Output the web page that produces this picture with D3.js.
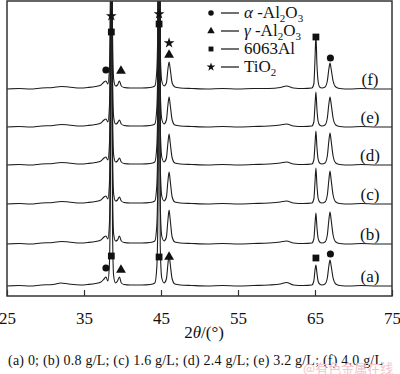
<!DOCTYPE html>
<html>
<head>
<meta charset="utf-8">
<script src="https://cdn.jsdelivr.net/npm/d3@7"></script>
<style>
  body { margin: 0; background: #fff; }
  svg { display: block; }
  text { font-family: "Liberation Serif", "Times New Roman", serif; fill: #111; }
</style>
</head>
<body>
<div id="chart"></div>
<script>

// 2theta grid shared by all patterns
var twoTheta = [25, 26.5, 28, 29.5, 31, 32, 33, 34.5, 35.5, 36.5,
  37.2, 37.6, 37.85, 38.1, 38.3, 38.45, 38.55, 38.7, 38.85, 39.1,
  39.35, 39.6, 39.85, 40.2, 41, 42.5, 43.6, 44.2, 44.45, 44.6,
  44.75, 44.9, 45.1, 45.4, 45.7, 45.9, 46.05, 46.2, 46.45, 46.8,
  47.5, 49, 51, 53, 55, 57, 59, 60.5, 61.3, 62.2,
  63.5, 64.6, 64.85, 65.0, 65.12, 65.25, 65.4, 65.6, 65.9, 66.3,
  66.6, 66.8, 66.95, 67.1, 67.35, 67.7, 68.2, 69.5, 71, 73, 75];

// intensity above each pattern's own baseline (arb. units)
var patA = [0, 0.5, 0, 1, 1.5, 3, 2, 1, 1.5, 2.5,
  4, 7, 9, 5, 22, 130, 600, 60, 10, 3,
  5, 9, 3, 1.5, 1, 1, 1.5, 3, 18, 70,
  600, 40, 8, 3, 7, 22, 31, 22, 7, 2,
  1, 0.5, 0, 0.5, 0, 0.5, 1, 2, 3.5, 1,
  0.5, 1, 5, 16, 21, 13, 5, 2, 1, 2,
  8, 20, 26, 20, 8, 2, 0.5, 0, 0.5, 0, 0];
var patB = [0, 0.5, 0, 1, 1.5, 2.5, 2, 1, 1.5, 2.5,
  4, 7, 8, 5, 20, 130, 600, 60, 10, 3,
  4, 8, 3, 1.5, 1, 1, 1.5, 3, 18, 70,
  600, 40, 8, 3, 7, 24, 34, 24, 7, 2,
  1, 0.5, 0, 0.5, 0, 0.5, 1, 2, 3, 1,
  0.5, 1, 5, 20, 31, 17, 6, 2, 1, 2,
  9, 24, 32, 24, 9, 2, 0.5, 0, 0.5, 0, 0];
var patC = [0, 0.5, 0, 1, 1.5, 2.5, 2, 1, 1.5, 2.5,
  4, 7, 8, 5, 20, 130, 600, 60, 10, 3,
  4, 7, 3, 1.5, 1, 1, 1.5, 3, 18, 70,
  600, 40, 8, 3, 7, 23, 32, 23, 7, 2,
  1, 0.5, 0, 0.5, 0, 0.5, 1, 2, 3, 1,
  0.5, 1, 5, 22, 36, 19, 6, 2, 1, 2,
  9, 24, 33, 24, 9, 2, 0.5, 0, 0.5, 0, 0];
var patD = [0, 0.5, 0, 1, 1.5, 2.5, 2, 1, 1.5, 2.5,
  4, 7, 8, 5, 20, 130, 600, 60, 10, 3,
  4, 7, 3, 1.5, 1, 1, 1.5, 3, 18, 70,
  600, 40, 8, 3, 7, 22, 31, 22, 7, 2,
  1, 0.5, 0, 0.5, 0, 0.5, 1, 2, 3, 1,
  0.5, 1, 5, 21, 34, 18, 6, 2, 1, 2,
  9, 24, 32, 24, 9, 2, 0.5, 0, 0.5, 0, 0];
var patE = [0, 0.5, 0, 1, 1.5, 2.5, 2, 1, 1.5, 2.5,
  4, 7, 8, 5, 20, 130, 600, 60, 10, 3,
  4, 7, 3, 1.5, 1, 1, 1.5, 3, 18, 70,
  600, 40, 8, 3, 7, 22, 30, 22, 7, 2,
  1, 0.5, 0, 0.5, 0, 0.5, 1, 2, 3, 1,
  0.5, 1, 5, 22, 35, 18, 6, 2, 1, 2,
  9, 23, 30, 23, 9, 2, 0.5, 0, 0.5, 0, 0];
var patF = [0, 0.5, 0, 1, 1.5, 2.5, 2, 1, 1.5, 2.5,
  4, 7, 8, 5, 20, 130, 600, 60, 10, 3,
  4, 8, 3, 1.5, 1, 1, 1.5, 3, 18, 70,
  600, 40, 8, 3, 6, 20, 27, 20, 6, 2,
  1, 0.5, 0, 0.5, 0, 0.5, 0.5, 1.5, 3, 1,
  0.5, 1, 5, 30, 54, 25, 8, 2, 1, 2,
  8, 20, 26, 20, 8, 2, 0.5, 0, 0.5, 0, 0];

var patLabels = ['(a)', '(b)', '(c)', '(d)', '(e)', '(f)'];
var patOffsets = [0, 42, 82, 121, 159, 197];

var xTicks = [25, 35, 45, 55, 65, 75];

// phase markers: [shape, 2theta, absolute level]
var markersTop = [
  ['star', 38.55, 270], ['square', 38.55, 254],
  ['star', 44.75, 272], ['square', 44.75, 262],
  ['star', 46.05, 243], ['triangle', 46.05, 231],
  ['circle', 37.85, 216], ['triangle', 39.8, 215],
  ['square', 65.12, 249], ['circle', 67.0, 228]
];
var markersBottom = [
  ['square', 38.55, 30], ['circle', 37.85, 18], ['triangle', 39.8, 16],
  ['square', 44.75, 29], ['triangle', 46.05, 29],
  ['square', 65.12, 28], ['circle', 67.0, 32]
];

var legendItems = [
  ['circle', 'α', ' -Al', '2', 'O', '3'],
  ['triangle', 'γ', ' -Al', '2', 'O', '3'],
  ['square', '', '6063Al', '', '', ''],
  ['star', '', 'TiO', '2', '', '']
];

var caption = '(a) 0; (b) 0.8 g/L; (c) 1.6 g/L; (d) 2.4 g/L; (e) 3.2 g/L; (f) 4.0 g/L';


var W = 400, H = 374;
var frame = {left: 7, top: 1, right: 392, bottom: 296};
var serif = '"Liberation Serif", "Times New Roman", serif';

var svg = d3.select('#chart').append('svg')
  .attr('width', W).attr('height', H)
  .attr('font-family', serif);

var x = d3.scaleLinear().domain([25, 75]).range([frame.left, frame.right]);
var y = d3.scaleLinear().domain([-10, 285]).range([frame.bottom, frame.top]);

var symbolType = {
  circle: d3.symbolCircle,
  triangle: d3.symbolTriangle,
  square: d3.symbolSquare,
  star: d3.symbolStar
};

svg.append('clipPath').attr('id', 'plotClip')
  .append('rect')
  .attr('x', frame.left).attr('y', frame.top)
  .attr('width', frame.right - frame.left)
  .attr('height', frame.bottom - frame.top);

// patterns
var patterns = [patA, patB, patC, patD, patE, patF];

var line = d3.line()
  .x(function(d) { return x(d[0]); })
  .y(function(d) { return y(d[1]); })
  .curve(d3.curveMonotoneX);

var gLines = svg.append('g').attr('clip-path', 'url(#plotClip)');

patterns.forEach(function(pat, i) {
  var pts = twoTheta.map(function(t, j) { return [t, pat[j] + patOffsets[i]]; });
  gLines.append('path')
    .datum(pts)
    .attr('d', line)
    .attr('fill', 'none')
    .attr('stroke', '#1c1c1c')
    .attr('stroke-width', 1.1);
});

// trace labels
svg.append('g').selectAll('text')
  .data(patLabels)
  .enter().append('text')
  .attr('x', 370)
  .attr('y', function(d, i) { return y(patOffsets[i]) - 4.5; })
  .attr('text-anchor', 'middle')
  .style('font-size', '17px')
  .text(function(d) { return d; });

// markers
var markerSize = {circle: 40, triangle: 42, square: 46, star: 36};

svg.append('g').selectAll('path')
  .data(markersTop.concat(markersBottom))
  .enter().append('path')
  .attr('transform', function(d) { return 'translate(' + x(d[1]) + ',' + y(d[2]) + ')'; })
  .attr('d', function(d) { return d3.symbol().type(symbolType[d[0]]).size(markerSize[d[0]])(); })
  .attr('fill', '#111');

// frame
svg.append('rect')
  .attr('x', frame.left).attr('y', frame.top)
  .attr('width', frame.right - frame.left)
  .attr('height', frame.bottom - frame.top)
  .attr('fill', 'none')
  .attr('stroke', '#333')
  .attr('stroke-width', 1.5);

// x axis, ticks pointing inward
var xAxis = svg.append('g')
  .attr('transform', 'translate(0,' + frame.bottom + ')')
  .call(d3.axisBottom(x).tickValues(xTicks).tickSizeInner(-6).tickSizeOuter(0).tickPadding(16))
  .attr('font-family', serif)
  .attr('font-size', 17);

xAxis.select('.domain').remove();
xAxis.selectAll('line').attr('stroke', '#333').attr('stroke-width', 1.2);
xAxis.selectAll('text').attr('fill', '#111');

// axis title
var xt = svg.append('text')
  .attr('x', 204).attr('y', 338)
  .attr('text-anchor', 'middle')
  .style('font-size', '17px');
xt.append('tspan').text('2');
xt.append('tspan').style('font-style', 'italic').text('θ');
xt.append('tspan').text('/(');
xt.append('tspan').text('°');
xt.append('tspan').text(')');

// legend
var lg = svg.append('g');
legendItems.forEach(function(it, i) {
  var yy = 18 + i * 18;
  lg.append('path')
    .attr('transform', 'translate(211,' + (yy - 5) + ')')
    .attr('d', d3.symbol().type(symbolType[it[0]]).size(24)())
    .attr('fill', '#111');
  lg.append('line')
    .attr('x1', 221).attr('x2', 239)
    .attr('y1', yy - 5).attr('y2', yy - 5)
    .attr('stroke', '#111').attr('stroke-width', 1.2);
  var t = lg.append('text').attr('x', 244).attr('y', yy).style('font-size', '17px');
  if (it[1]) t.append('tspan').style('font-style', 'italic').text(it[1]);
  t.append('tspan').text(it[2]);
  if (it[3]) t.append('tspan').attr('dy', 4).style('font-size', '11px').text(it[3]);
  if (it[4]) t.append('tspan').attr('dy', -4).text(it[4]);
  if (it[5]) t.append('tspan').attr('dy', 4).style('font-size', '11px').text(it[5]);
});

// caption
svg.append('text')
  .attr('x', 8).attr('y', 365)
  .attr('textLength', 375)
  .attr('lengthAdjust', 'spacing')
  .style('font-size', '14px')
  .text(caption);

// watermark
svg.append('text')
  .attr('x', 303).attr('y', 373)
  .style('font-family', '"Noto Sans CJK SC", sans-serif')
  .style('font-size', '13px')
  .style('fill', '#f3c4cb')
  .text('@有色金属在线');

</script>
</body>
</html>
